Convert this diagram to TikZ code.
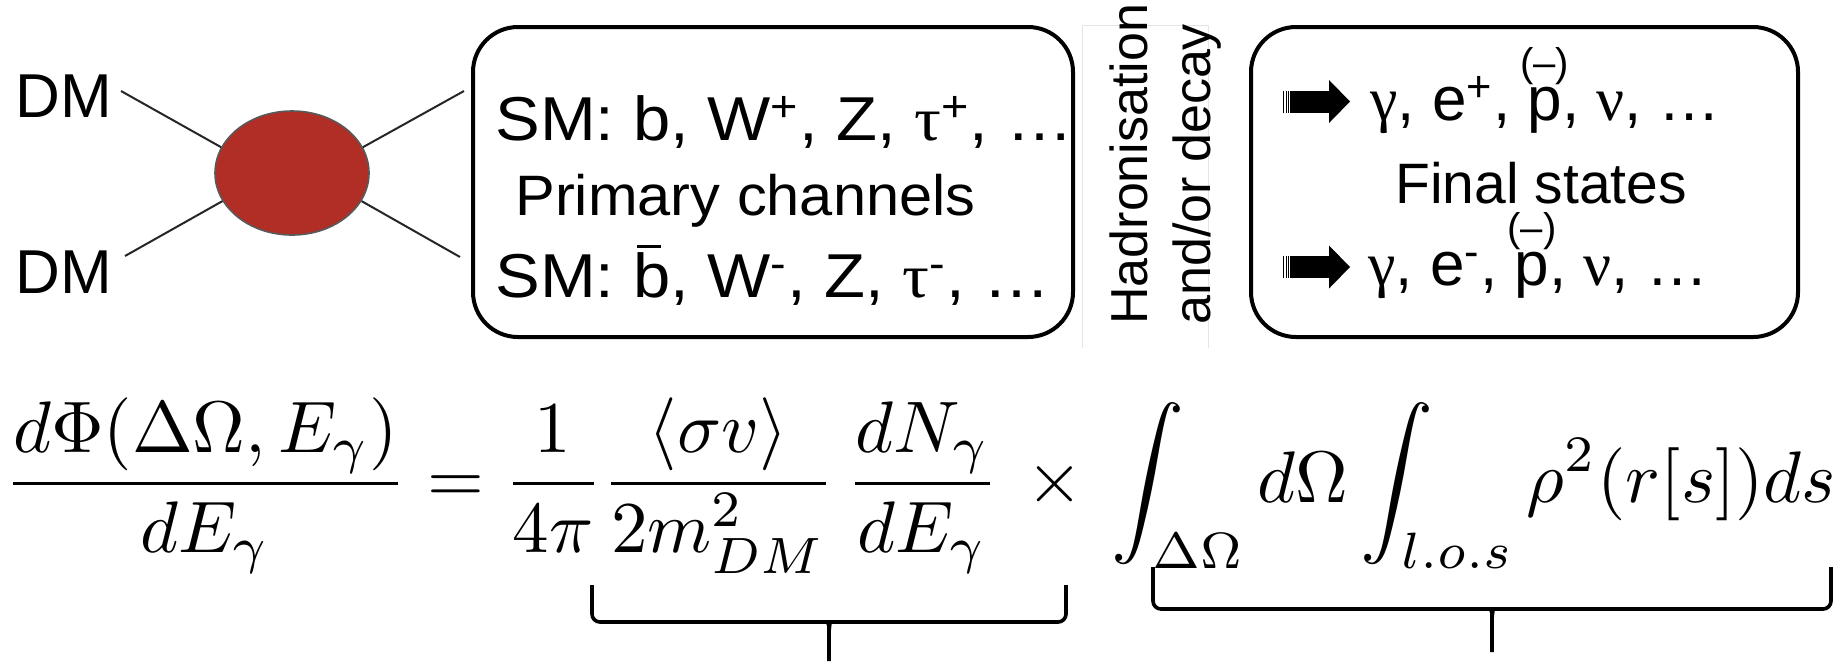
\documentclass[tikz,border=0pt]{standalone}
\usepackage{amsmath,graphicx}
\usepackage{fontspec}
\setmainfont{Liberation Sans}
\newfontfamily\grk{Liberation Serif}
\newfontfamily\widesf[FakeStretch=1.08]{Liberation Sans}
\newfontfamily\widegrk[FakeStretch=1.08]{Liberation Serif}
\newfontfamily\midsf[FakeStretch=1.045]{Liberation Sans}
\usetikzlibrary{shapes.geometric}
\definecolor{blobred}{RGB}{177,46,38}
\newcommand{\bbar}{\rlap{\hspace{2pt}\raisebox{24.5pt}{\rule{12pt}{1.5pt}}}b}
\newcommand{\pbar}{\ooalign{p\cr\hidewidth\raisebox{21.75pt}{\fontsize{20}{20}\selectfont(--)}\hidewidth\cr}}
\tikzset{blob/.style={ellipse,draw=black!65,line width=0.8pt,fill=blobred,minimum width=77pt,minimum height=62pt,inner sep=0pt},
  leg/.style={line width=1pt,black!85},
  panel/.style={draw,line width=2pt,rounded corners=22.5pt,inner sep=0pt},
  lbl/.style={anchor=base west,inner sep=0pt,font=\fontsize{31}{36}\selectfont},
  widelbl/.style={lbl,font=\fontsize{31}{36}\widesf},
  midlbl/.style={lbl,font=\fontsize{28.5}{34}\selectfont},
  vlbl/.style={lbl,rotate=90,font=\fontsize{26}{30}\selectfont},
  brc/.style={line width=1.8pt,rounded corners=4pt},
  fatarr/.pic={\fill (7,-11) rectangle (46,11);
    \fill (46,-21.5) -- (67,0) -- (46,21.5) -- cycle;
    \foreach \s in {0,2.6,5}{\fill (\s,-11) rectangle ++(1.2,22);}}}
\begin{document}
\begin{tikzpicture}[x=0.5pt,y=-0.5pt]
\useasboundingbox (0,0) rectangle (1839,661);
% annihilation
\node[blob] (blob) at (292,173) {};
\node[lbl] (dmtop) at (15,117) {DM};
\node[lbl] (dmbot) at (15,293) {DM};
\coordinate (intop) at (121,91);
\coordinate (inbot) at (125,256);
\coordinate (outtop) at (464,91);
\coordinate (outbot) at (460,257);
\draw[leg] (intop) -- (blob.160);
\draw[leg] (inbot) -- (blob.202);
\draw[leg] (blob.20) -- (outtop);
\draw[leg] (blob.-22) -- (outbot);
% primary channels
\node[panel,minimum width=300pt,minimum height=155pt] (prim) at (773,182) {};
\node[widelbl] (smplus) at (495,140) {SM: b, W\textsuperscript{+}, Z, {\widegrk τ}\textsuperscript{+}, …};
\node[midlbl,font=\fontsize{28.5}{34}\midsf] (primlbl) at (515,215) {Primary channels};
\node[widelbl] (smminus) at (495,297) {SM: \bbar, W\textsuperscript{-}, Z, {\widegrk τ}\textsuperscript{-}, …};
% hadronisation
\draw[black!10,line width=0.5pt] (1082,348) -- (1082,25) -- (1208,25) -- (1208,348);
\node[vlbl] (hadr) at (1147,325) {Hadronisation};
\node[vlbl] (decay) at (1210,325) {and/or decay};
% final states
\node[panel,minimum width=273.5pt,minimum height=155pt] (fin) at (1524.5,182) {};
\pic at (1283,101.5) {fatarr};
\pic at (1283,267) {fatarr};
\node[lbl] (fsplus) at (1370,120) {{\grk γ}, e\textsuperscript{+}, \pbar, {\grk ν}, …};
\node[midlbl] (finlbl) at (1395,203) {Final states};
\node[lbl] (fsminus) at (1368,285) {{\grk γ}, e\textsuperscript{-}, \pbar, {\grk ν}, …};
% flux formula
\node[anchor=base west,inner sep=0pt] (flux) at (4,502) {\scalebox{3.65}{$\displaystyle
  \frac{d\Phi(\Delta\Omega,E_\gamma)}{dE_\gamma}=\frac{1}{4\pi}\frac{\langle\sigma v\rangle}{2m_{DM}^2}\,\frac{dN_\gamma}{dE_\gamma}\,\times\,\int_{\Delta\Omega}d\Omega\int_{l.o.s}\rho^2(r[s])ds$}};
% braces
\draw[brc] (592,585) -- (592,622) -- (821,622) .. controls (827,622) and (829,626) .. (829,634) -- (829,661);
\draw[brc] (1066,585) -- (1066,622) -- (837,622) .. controls (831,622) and (829,626) .. (829,634);
\draw[brc] (1153,567) -- (1153,609) -- (1484,609) .. controls (1490,609) and (1492,613) .. (1492,621) -- (1492,652);
\draw[brc] (1831,567) -- (1831,609) -- (1500,609) .. controls (1494,609) and (1492,613) .. (1492,621);
\end{tikzpicture}
\end{document}
